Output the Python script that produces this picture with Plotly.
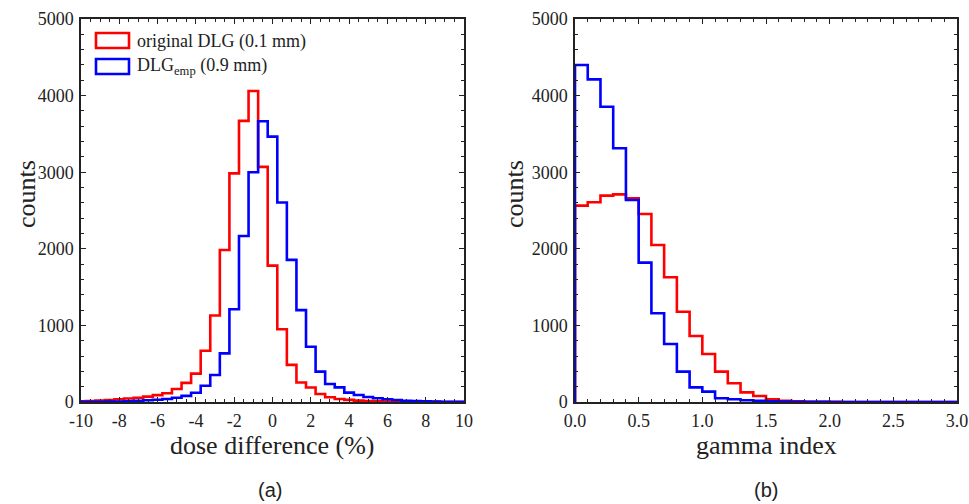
import plotly.graph_objects as go

# ---------------- data ----------------
dose_centers = [-10.0, -9.5, -9.0, -8.5, -8.0, -7.5, -7.0, -6.5, -6.0, -5.5, -5.0,
                -4.5, -4.0, -3.5, -3.0, -2.5, -2.0, -1.5, -1.0, -0.5, 0.0,
                0.5, 1.0, 1.5, 2.0, 2.5, 3.0, 3.5, 4.0, 4.5, 5.0,
                5.5, 6.0, 6.5, 7.0, 7.5, 8.0, 8.5, 9.0, 9.5, 10.0]
dose_original = [8, 12, 18, 25, 35, 45, 55, 70, 90, 115, 170,
                 250, 370, 670, 1130, 1985, 2985, 3670, 4060, 3070, 1780,
                 950, 485, 255, 190, 105, 62, 40, 28, 18, 12,
                 8, 6, 4, 3, 2, 1, 1, 0, 0, 0]
dose_emp = [1, 2, 3, 5, 7, 10, 15, 22, 30, 40, 55,
            80, 120, 213, 352, 635, 1210, 2167, 3000, 3665, 3465,
            2605, 1855, 1200, 722, 396, 235, 191, 122, 91, 65,
            48, 35, 26, 17, 13, 9, 6, 4, 3, 2]

gamma_centers = [0.05, 0.15, 0.25, 0.35, 0.45, 0.55, 0.65, 0.75, 0.85, 0.95,
                 1.05, 1.15, 1.25, 1.35, 1.45, 1.55, 1.65, 1.75, 1.85, 1.95,
                 2.05, 2.15, 2.25, 2.35, 2.45, 2.55, 2.65, 2.75, 2.85, 2.95]
gamma_original = [2563, 2607, 2694, 2711, 2659, 2454, 2050, 1628, 1179, 862,
                  627, 396, 244, 126, 78, 35, 15, 8, 4, 2,
                  1, 0, 0, 0, 0, 0, 0, 0, 0, 0]
gamma_emp = [4400, 4212, 3855, 3312, 2637, 1819, 1158, 757, 396, 191,
             135, 48, 35, 22, 15, 10, 6, 4, 2, 1,
             0, 0, 0, 0, 0, 0, 0, 0, 0, 0]

dose_tickvals = [-10, -8, -6, -4, -2, 0, 2, 4, 6, 8, 10]
dose_ticktext = ["-10", "-8", "-6", "-4", "-2", "0", "2", "4", "6", "8", "10"]
gamma_tickvals = [0, 0.5, 1.0, 1.5, 2.0, 2.5, 3.0]
gamma_ticktext = ["0.0", "0.5", "1.0", "1.5", "2.0", "2.5", "3.0"]
count_tickvals = [0, 1000, 2000, 3000, 4000, 5000]
count_ticktext = ["0", "1000", "2000", "3000", "4000", "5000"]

series_names = ["original DLG (0.1 mm)", "DLG<sub>emp</sub> (0.9 mm)"]
series_colors = ["rgb(255,0,0)", "rgb(0,0,255)"]
x_titles = ["dose difference (%)", "gamma index"]
y_title = "counts"
panel_labels = ["(a)", "(b)"]

# ---------------- helpers ----------------
W, H = 969, 504
SERIF = "Times New Roman, Liberation Serif, serif"
INK = "#222"


def step_xy(centers, counts):
    w = centers[1] - centers[0]
    edges = [c - w / 2 for c in centers] + [centers[-1] + w / 2]
    xs = [edges[0]] + edges[:-1] + [edges[-1], edges[-1]]
    ys = [0] + list(counts) + [counts[-1], 0]
    return xs, ys


def px_x(p):
    return p / W


def px_y(p):
    return 1 - p / H


fig = go.Figure()

panels = [
    ("x", "y", dose_centers, [dose_original, dose_emp]),
    ("x2", "y2", gamma_centers, [gamma_original, gamma_emp]),
]
for xa, ya, centers, series in panels:
    for name, color, counts in zip(series_names, series_colors, series):
        xs, ys = step_xy(centers, counts)
        fig.add_trace(go.Scatter(x=xs, y=ys, mode="lines", line_shape="hv",
                                 line=dict(color=color, width=2.6),
                                 name=name, showlegend=False,
                                 xaxis=xa, yaxis=ya, hoverinfo="skip"))

axis_common = dict(showline=True, linecolor=INK, linewidth=1.5, mirror="allticks",
                   ticks="inside", ticklen=5, tickwidth=1.3, tickcolor=INK,
                   showgrid=False, zeroline=False, automargin=False,
                   ticklabelstandoff=2,
                   tickfont=dict(family=SERIF, size=18, color=INK))

yd = [px_y(402), px_y(19)]
fig.update_layout(
    width=W, height=H,
    margin=dict(l=0, r=0, t=0, b=0, autoexpand=False),
    paper_bgcolor="white", plot_bgcolor="white",
    showlegend=False,
    xaxis=dict(domain=[px_x(81), px_x(464)], range=[-10, 10],
               tickmode="array", tickvals=dose_tickvals, ticktext=dose_ticktext,
               minor=dict(ticks="inside", dtick=0.5, tick0=0, ticklen=3, tickwidth=1, tickcolor=INK),
               anchor="y", **axis_common),
    yaxis=dict(domain=yd, range=[0, 5000],
               tickmode="array", tickvals=count_tickvals, ticktext=count_ticktext,
               minor=dict(ticks="inside", dtick=200, tick0=0, ticklen=3, tickwidth=1, tickcolor=INK),
               anchor="x", **axis_common),
    xaxis2=dict(domain=[px_x(575), px_x(957)], range=[0, 3],
                tickmode="array", tickvals=gamma_tickvals, ticktext=gamma_ticktext,
                minor=dict(ticks="inside", dtick=0.1, tick0=0, ticklen=3, tickwidth=1, tickcolor=INK),
                anchor="y2", **axis_common),
    yaxis2=dict(domain=yd, range=[0, 5000],
                tickmode="array", tickvals=count_tickvals, ticktext=count_ticktext,
                minor=dict(ticks="inside", dtick=200, tick0=0, ticklen=3, tickwidth=1, tickcolor=INK),
                anchor="x2", **axis_common),
)

annotations = []
shapes = []
# axis titles
for cx, title in zip([272, 766], x_titles):
    annotations.append(dict(x=px_x(cx), y=px_y(445), xref="paper", yref="paper",
                            text=title, showarrow=False,
                            font=dict(family=SERIF, size=26, color=INK),
                            xanchor="center", yanchor="middle"))
for cx in [27, 515]:
    annotations.append(dict(x=px_x(cx), y=px_y(194), xref="paper", yref="paper",
                            text=y_title, showarrow=False, textangle=-90,
                            font=dict(family=SERIF, size=26, color=INK),
                            xanchor="center", yanchor="middle"))
for cx, lab in zip([270, 766], panel_labels):
    annotations.append(dict(x=px_x(cx), y=px_y(490), xref="paper", yref="paper",
                            text=lab, showarrow=False,
                            font=dict(family="Liberation Sans, Arial, sans-serif", size=20, color=INK),
                            xanchor="center", yanchor="middle"))

# legend (drawn manually)
for i, (name, color) in enumerate(zip(series_names, series_colors)):
    top = 33 + i * 26
    shapes.append(dict(type="rect", xref="paper", yref="paper",
                       x0=px_x(96), x1=px_x(129), y0=px_y(top), y1=px_y(top + 15),
                       line=dict(color=color, width=2.6), fillcolor="rgba(0,0,0,0)"))
    annotations.append(dict(x=px_x(135), y=px_y(top + 8), xref="paper", yref="paper",
                            text=name, showarrow=False,
                            font=dict(family=SERIF, size=18, color=INK),
                            xanchor="left", yanchor="middle"))

fig.update_layout(annotations=annotations, shapes=shapes)

fig.write_html("out.html",
               config={"displayModeBar": False},
               post_script="document.body.style.margin='0';document.body.style.padding='0';")
